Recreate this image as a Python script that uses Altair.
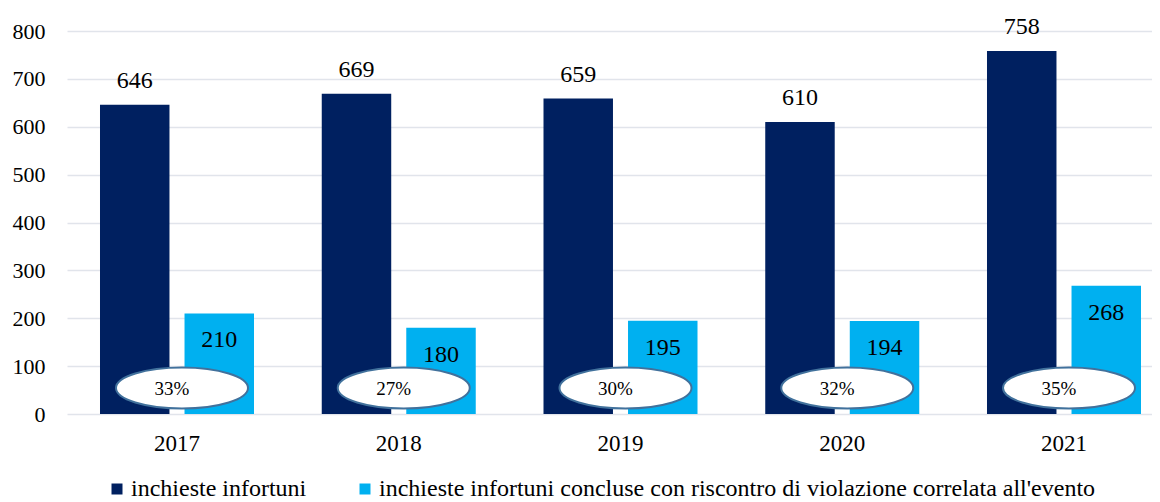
import altair as alt
import pandas as pd

anni = ["2017", "2018", "2019", "2020", "2021"]
inchieste = [646, 669, 659, 610, 758]
concluse = [210, 180, 195, 194, 268]
percentuali = ["33%", "27%", "30%", "32%", "35%"]
serie = [
    "inchieste infortuni",
    "inchieste infortuni concluse con riscontro di violazione correlata all'evento",
]
colori = ["#002060", "#00B0F0"]

rows = []
for a, v1, v2 in zip(anni, inchieste, concluse):
    rows.append({"anno": a, "serie": serie[0], "valore": v1})
    rows.append({"anno": a, "serie": serie[1], "valore": v2})
df = pd.DataFrame(rows)
pdf = pd.DataFrame({"anno": anni, "pct": percentuali})

FONT = "'Liberation Serif', 'Times New Roman', 'DejaVu Serif', serif"
ELL = "M -1 0 A 1 0.31 0 1 0 1 0 A 1 0.31 0 1 0 -1 0 Z"

x = alt.X(
    "anno:N", sort=anni, title=None,
    scale=alt.Scale(paddingInner=0.3055, paddingOuter=0.0992, align=0.75),
    axis=alt.Axis(labelAngle=0, labelFont=FONT, labelFontSize=23, labelColor="#000",
                  labelPadding=18, ticks=False, tickSize=0, domain=False, grid=False),
)
xo = alt.XOffset("serie:N", sort=serie, scale=alt.Scale(paddingInner=0.178, paddingOuter=0))
y = alt.Y(
    "valore:Q", title=None,
    scale=alt.Scale(domain=[0, 800], nice=False, zero=True),
    axis=alt.Axis(values=list(range(0, 801, 100)), labelFont=FONT, labelFontSize=22,
                  labelColor="#000", labelPadding=22, ticks=False, domain=False,
                  gridColor="#e1e4eb", gridWidth=1.6),
)
color = alt.Color(
    "serie:N",
    scale=alt.Scale(domain=serie, range=colori),
    legend=alt.Legend(orient="none", legendX=38, legendY=446, direction="horizontal",
                      title=None, symbolType="square", symbolSize=121,
                      symbolStrokeWidth=0, labelFont=FONT, labelFontSize=24,
                      labelColor="#000", labelLimit=1000, columnPadding=46, labelOffset=2),
)

bars = alt.Chart(df).mark_bar().encode(x=x, xOffset=xo, y=y, color=color)
lab1 = alt.Chart(df).transform_filter(alt.datum.serie == serie[0]).mark_text(
    font=FONT, fontSize=24, dy=-24, baseline="middle", color="#000"
).encode(x=x, xOffset=xo, y=y, text="valore:Q")
lab2 = alt.Chart(df).transform_filter(alt.datum.serie == serie[1]).mark_text(
    font=FONT, fontSize=24, dy=27, baseline="middle", color="#000"
).encode(x=x, xOffset=xo, y=y, text="valore:Q")
ell = alt.Chart(pdf).mark_point(
    shape=ELL, size=17424, filled=True, fill="white", stroke="#41719c",
    strokeWidth=2, opacity=1, fillOpacity=1, strokeOpacity=1, xOffset=5,
).encode(x=alt.X("anno:N", sort=anni), y=alt.value(357))
pct = alt.Chart(pdf).mark_text(
    font=FONT, fontSize=19, baseline="middle", color="#000", xOffset=-5,
).encode(x=alt.X("anno:N", sort=anni), y=alt.value(358), text="pct:N")

chart = alt.layer(bars, lab1, lab2, ell, pct).properties(
    width=1085, height=383,
    padding={"left": 59, "top": 23, "right": 0, "bottom": 86},
    autosize=alt.AutoSizeParams(type="none"),
).configure_view(stroke=None)

chart.save("out.html", embed_options={"renderer": "svg", "actions": False})
